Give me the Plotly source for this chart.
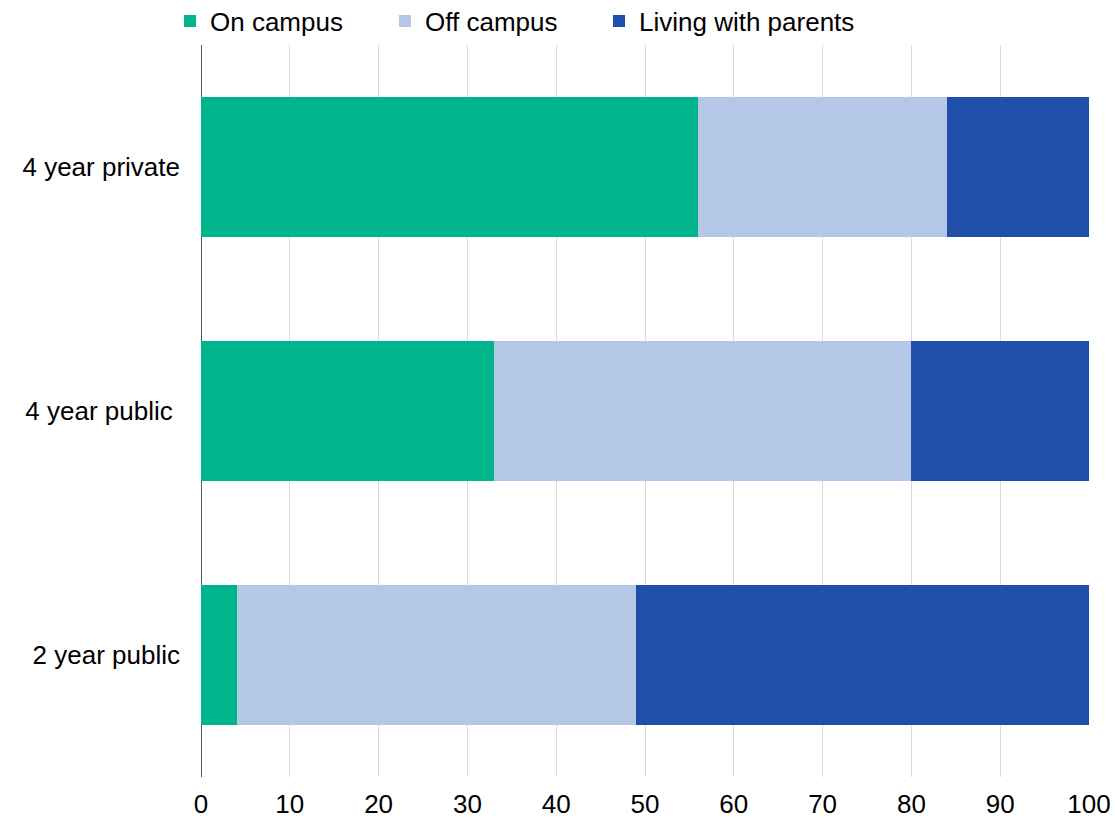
import plotly.graph_objects as go

categories = ["4 year private", "4 year public ", "2 year public"]
on_campus = [56, 33, 4]
off_campus = [28, 47, 45]
with_parents = [16, 20.2, 51]

series_names = ["On campus", "Off campus", "Living with parents"]
colors = ["#00B48B", "#B4C7E7", "#1F4FA8"]
legend_ids = ["legend", "legend2", "legend3"]
legend_left_px = [170, 385, 599]

W, H = 1115, 822
font = dict(family="Liberation Sans, Arial, sans-serif", size=26, color="#000000")

fig = go.Figure()
for name, vals, col, lid in zip(series_names, [on_campus, off_campus, with_parents], colors, legend_ids):
    fig.add_trace(go.Bar(
        y=categories, x=vals, name=name, orientation="h",
        marker=dict(color=col, line=dict(width=0)),
        legend=lid,
    ))

legend_common = dict(
    orientation="h", xanchor="left",
    xref="container", yref="container", y=1 - 21 / H, yanchor="middle",
    font=font, itemwidth=30, bgcolor="rgba(0,0,0,0)",
)
legend_layout = {lid: dict(legend_common, x=px / W) for lid, px in zip(legend_ids, legend_left_px)}

fig.update_layout(
    barmode="stack",
    bargap=0.43,
    width=W, height=H,
    margin=dict(l=201, r=26, t=45, b=45, autoexpand=False),
    plot_bgcolor="white", paper_bgcolor="white",
    font=font,
    showlegend=True,
    xaxis=dict(
        range=[0, 100], dtick=10, tick0=0,
        showgrid=True, gridcolor="#D9D9D9", gridwidth=1,
        zeroline=True, zerolinecolor="#595959", zerolinewidth=1,
        showline=False, ticks="", ticklabelstandoff=9,
        tickfont=font, automargin=False,
    ),
    yaxis=dict(
        categoryorder="array", categoryarray=categories,
        autorange="reversed",
        showgrid=False, zeroline=False, showline=False,
        ticks="", ticklabelstandoff=20,
        tickfont=font, automargin=False,
    ),
    **legend_layout,
)

fig.write_html(
    "out.html",
    config={"displayModeBar": False},
    post_script="document.body.style.margin='0';document.body.style.padding='0';",
)
